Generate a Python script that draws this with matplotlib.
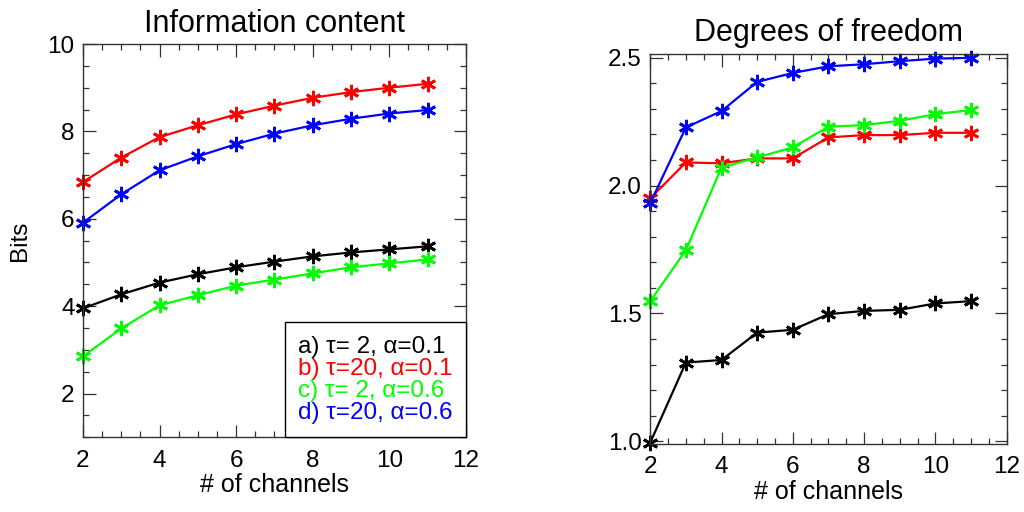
import matplotlib.pyplot as plt
from matplotlib.ticker import MultipleLocator, FormatStrFormatter

plt.rcParams['font.family'] = ['Liberation Sans', 'DejaVu Sans']

# numero de canales
channels = [2, 3, 4, 5, 6, 7, 8, 9, 10, 11]

# contenido de informacion (bits)
info_a = [3.95, 4.27, 4.54, 4.73, 4.89, 5.02, 5.14, 5.23, 5.30, 5.37]
info_b = [6.84, 7.40, 7.87, 8.14, 8.39, 8.59, 8.77, 8.90, 9.00, 9.09]
info_c = [2.85, 3.49, 4.02, 4.25, 4.47, 4.61, 4.75, 4.89, 4.98, 5.07]
info_d = [5.91, 6.56, 7.11, 7.43, 7.71, 7.95, 8.14, 8.29, 8.41, 8.49]

# grados de libertad
dof_a = [0.995, 1.308, 1.318, 1.425, 1.436, 1.497, 1.510, 1.514, 1.539, 1.548]
dof_b = [1.950, 2.090, 2.087, 2.106, 2.106, 2.188, 2.197, 2.197, 2.206, 2.206]
dof_c = [1.548, 1.747, 2.070, 2.110, 2.149, 2.230, 2.236, 2.253, 2.279, 2.295]
dof_d = [1.931, 2.227, 2.291, 2.405, 2.440, 2.466, 2.474, 2.486, 2.496, 2.499]

etiquetas = ['a) \u03c4= 2, \u03b1=0.1', 'b) \u03c4=20, \u03b1=0.1',
             'c) \u03c4= 2, \u03b1=0.6', 'd) \u03c4=20, \u03b1=0.6']
colores = ['black', '#ff0000', '#00ff00', '#0000ff']

estrella = dict(marker=(6, 2, 0), markersize=11, markeredgewidth=2.0, linewidth=1.6)


def estilo_ejes(ax):
    ax.tick_params(which='both', direction='in', top=True, right=True,
                   labelsize=17.5, width=0.9, color='#333333')
    ax.tick_params(which='major', length=9)
    ax.tick_params(axis='x', which='major', pad=9)
    ax.tick_params(axis='y', which='major', pad=6)
    ax.tick_params(which='minor', length=4.5)
    for s in ax.spines.values():
        s.set_color('#333333')
        s.set_linewidth(1.0)


fig = plt.figure(figsize=(10.24, 5.12), dpi=100)

# Grafica de contenido de informacion
ax1 = fig.add_axes([0.081, 0.146, 0.374, 0.768])
for serie, color, etq in zip([info_a, info_b, info_c, info_d], colores, etiquetas):
    ax1.plot(channels, serie, color=color, label=etq, clip_on=False, **estrella)
ax1.set_xlim(2, 12)
ax1.set_ylim(1, 10)
ax1.xaxis.set_major_locator(MultipleLocator(2))
ax1.xaxis.set_minor_locator(MultipleLocator(0.5))
ax1.yaxis.set_minor_locator(MultipleLocator(0.5))
ax1.set_yticks([2, 4, 6, 8, 10])
ax1.set_title('Information content', fontsize=22, pad=9)
ax1.set_xlabel('# of channels', fontsize=18, labelpad=1)
ax1.set_ylabel('Bits', fontsize=17.5, labelpad=12)
estilo_ejes(ax1)

leyenda = ax1.legend(loc='lower right', borderaxespad=0, fontsize=17.5,
                     labelcolor='linecolor', handlelength=0, handletextpad=0,
                     fancybox=False, framealpha=1, edgecolor='black',
                     borderpad=0.55, labelspacing=0.0)
leyenda.get_frame().set_linewidth(1.0)
for h in leyenda.legend_handles:
    h.set_visible(False)

# Grafica de grados de libertad
ax2 = fig.add_axes([0.635, 0.133, 0.348, 0.762])
for serie, color in zip([dof_a, dof_b, dof_c, dof_d], colores):
    ax2.plot(channels, serie, color=color, clip_on=False, **estrella)
ax2.set_xlim(2, 12)
ax2.set_ylim(0.99, 2.515)
ax2.xaxis.set_major_locator(MultipleLocator(2))
ax2.xaxis.set_minor_locator(MultipleLocator(0.5))
ax2.set_yticks([1.0, 1.5, 2.0, 2.5])
ax2.yaxis.set_minor_locator(MultipleLocator(0.1))
ax2.yaxis.set_major_formatter(FormatStrFormatter('%.1f'))
ax2.set_title('Degrees of freedom', fontsize=22, pad=9)
ax2.set_xlabel('# of channels', fontsize=18, labelpad=1)
estilo_ejes(ax2)

plt.savefig('out.png', dpi=100)
